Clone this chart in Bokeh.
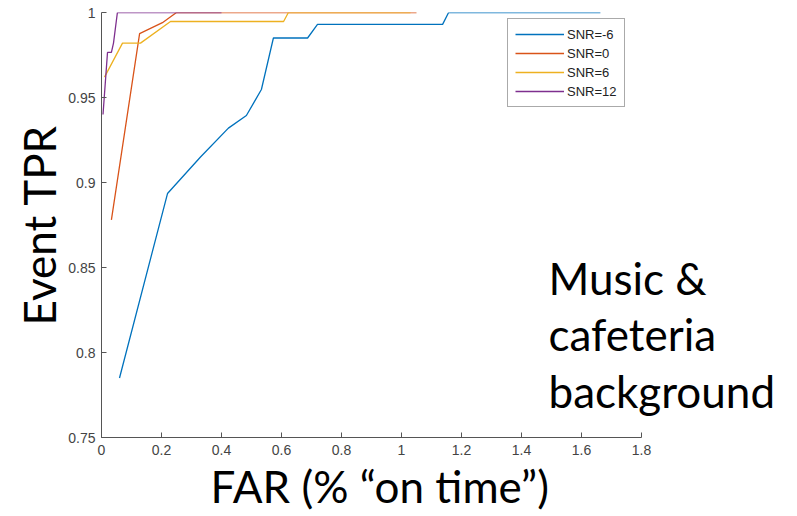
from bokeh.plotting import figure
from bokeh.models import Range1d, FixedTicker, NumeralTickFormatter, Label, Legend, LegendItem, Title
from bokeh.embed import file_html
from bokeh.resources import INLINE

# ---- data ----
snr_m6_far = [0.06, 0.22, 0.33, 0.423, 0.483, 0.533, 0.573, 0.687, 0.72, 1.137, 1.157, 1.663]
snr_m6_tpr = [0.785, 0.8935, 0.915, 0.932, 0.9394, 0.9547, 0.985, 0.985, 0.993, 0.993, 1.0, 1.0]

snr_0_far = [0.033, 0.127, 0.203, 0.25, 1.05]
snr_0_tpr = [0.878, 0.9876, 0.994, 1.0, 1.0]

snr_6_far = [0.01, 0.07, 0.13, 0.23, 0.607, 0.623, 1.03]
snr_6_tpr = [0.962, 0.982, 0.982, 0.9947, 0.9947, 1.0, 1.0]

snr_12_far = [0.005, 0.02, 0.033, 0.04, 0.053, 0.4]
snr_12_tpr = [0.94, 0.9765, 0.9765, 0.982, 1.0, 1.0]

series_names = ["SNR=-6", "SNR=0", "SNR=6", "SNR=12"]
series_colors = ["#0072BD", "#D95319", "#EDB120", "#7E2F8E"]

x_ticks = [0, 0.2, 0.4, 0.6, 0.8, 1.0, 1.2, 1.4, 1.6, 1.8]
y_ticks = [0.75, 0.8, 0.85, 0.9, 0.95, 1.0]

note_lines = ["Music &", "cafeteria", "background"]
note_y = [0.8441, 0.8106, 0.7776]

# frame spans to the right edge of the page so that the note is not clipped;
# the x axis itself is bounded to 0..1.8
p = figure(width=797, height=516, output_backend="svg", toolbar_location=None,
           x_range=Range1d(0, 2.32), y_range=Range1d(0.75, 1.0),
           min_border_left=101, min_border_right=0, min_border_top=12, min_border_bottom=79)
p.outline_line_color = None
p.xgrid.visible = False
p.ygrid.visible = False
p.background_fill_color = "white"
p.border_fill_color = "white"

for ax in (p.xaxis[0], p.yaxis[0]):
    ax.axis_line_color = "#555555"
    ax.major_tick_line_color = "#555555"
    ax.major_tick_in = 5
    ax.major_tick_out = 0
    ax.minor_tick_line_color = None
    ax.major_label_text_font = "Liberation Sans"
    ax.major_label_text_font_size = "14px"
    ax.major_label_text_color = "#444444"
    ax.axis_label_text_font = "Lato"
    ax.axis_label_text_font_size = "44px"
    ax.axis_label_text_font_style = "normal"
    ax.axis_label_text_color = "black"
    ax.formatter = NumeralTickFormatter(format="0.[00]")

p.xaxis.bounds = (0, 1.8)
p.xaxis.ticker = FixedTicker(ticks=x_ticks)
p.yaxis.ticker = FixedTicker(ticks=y_ticks)
p.yaxis.axis_label = "Event TPR"
p.xaxis.major_label_standoff = 7
p.yaxis.major_label_standoff = 6
p.yaxis.axis_label_standoff = 0

xtitle = Title(text="FAR (% \u201con time\u201d)", align="left", offset=109,
               text_font="Lato", text_font_size="44px", text_font_style="normal",
               text_color="black", standoff=0)
p.add_layout(xtitle, "below")

xs = [snr_m6_far, snr_0_far, snr_6_far, snr_12_far]
ys = [snr_m6_tpr, snr_0_tpr, snr_6_tpr, snr_12_tpr]
items = []
for x, y, name, c in zip(xs, ys, series_names, series_colors):
    r = p.line(x, y, line_color=c, line_width=1.3)
    items.append(LegendItem(label=name, renderers=[r]))

legend = Legend(items=items, location=(406, 330))
legend.label_text_font = "Liberation Sans"
legend.label_text_font_size = "13px"
legend.label_text_color = "#222222"
legend.glyph_width = 49
legend.glyph_height = 16
legend.label_height = 16
legend.label_standoff = 3
legend.spacing = 3
legend.padding = 7
legend.margin = 0
legend.border_line_color = "#555555"
legend.border_line_width = 1
legend.background_fill_color = "white"
legend.background_fill_alpha = 1.0
p.add_layout(legend)

for t, yv in zip(note_lines, note_y):
    p.add_layout(Label(x=1.49, y=yv, text=t, text_font="Lato", text_font_size="44px",
                       text_color="black", text_baseline="alphabetic", text_align="left"))

open("out.html", "w").write(file_html(p, INLINE))
